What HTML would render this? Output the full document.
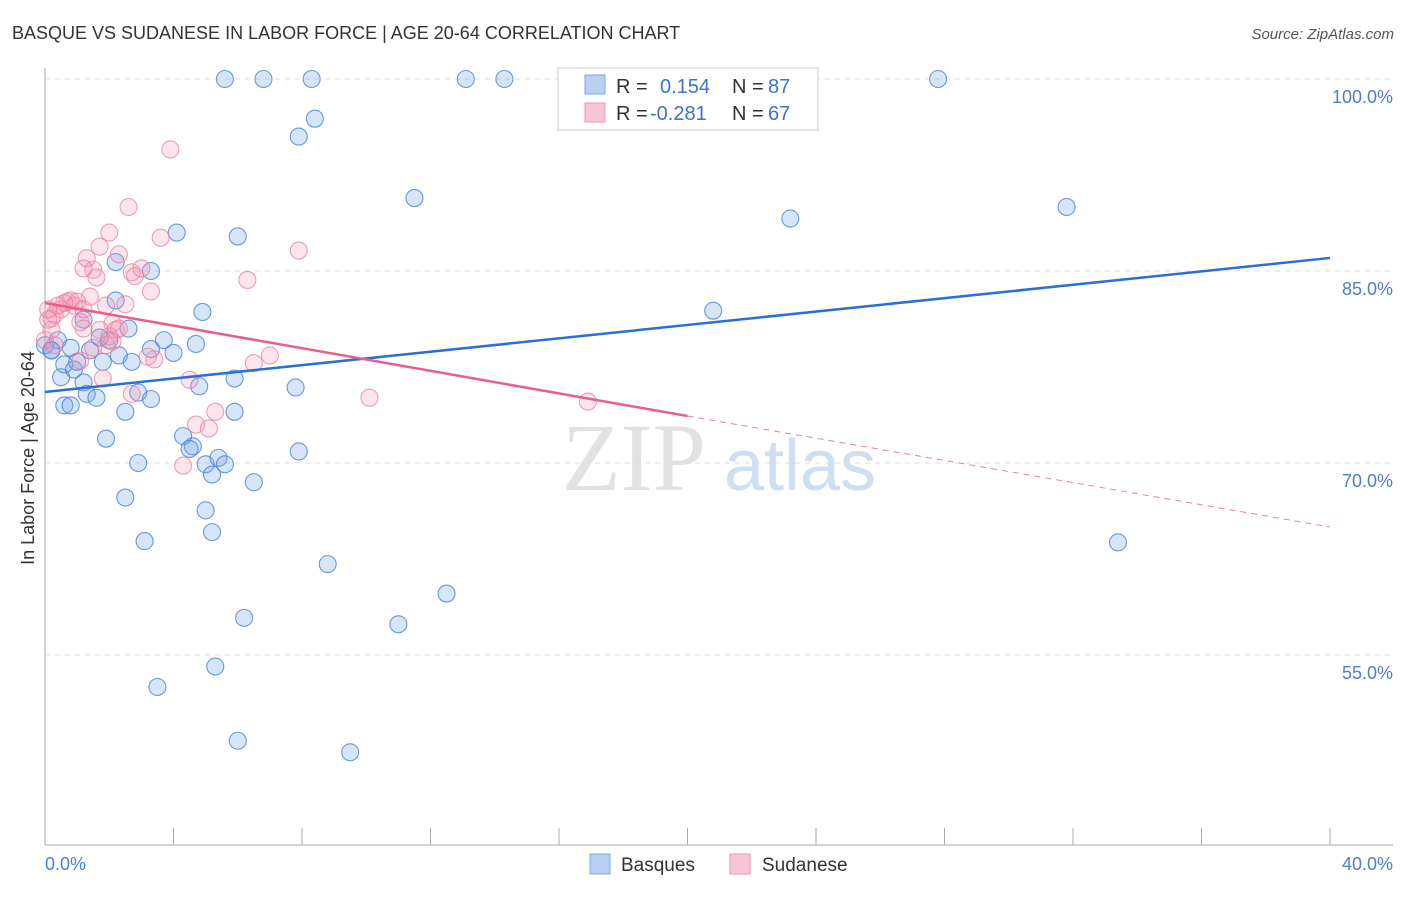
<!DOCTYPE html>
<html><head><meta charset="utf-8"><style>
body{margin:0;background:#fff;font-family:"Liberation Sans",sans-serif;}
</style></head><body>
<svg width="1406" height="892" xmlns="http://www.w3.org/2000/svg" font-family="Liberation Sans, sans-serif">
<text x="12" y="39" font-size="18" fill="#333">BASQUE VS SUDANESE IN LABOR FORCE | AGE 20-64 CORRELATION CHART</text>
<text x="1394" y="39" font-size="15" fill="#555" font-style="italic" text-anchor="end">Source: ZipAtlas.com</text>
<text x="34" y="458" font-size="18" fill="#333" text-anchor="middle" transform="rotate(-90 34 458)">In Labor Force | Age 20-64</text>
<g>
<text x="634" y="490" font-size="96" font-family="Liberation Serif, serif" fill="#e2e2e2" text-anchor="middle">ZIP</text>
<text x="800" y="490" font-size="72" fill="#d0def2" text-anchor="middle">atlas</text>
</g>
<g id="grid"></g><g id="axes"></g><g id="marks"></g>
<g>
<rect x="558" y="68" width="260" height="62" fill="#fff" stroke="#ccc"/>
<rect x="585" y="75" width="20" height="19" fill="#b8d1f3" stroke="#7fa6e0"/>
<rect x="585" y="103" width="20" height="19" fill="#f9c4d4" stroke="#eb9ab3"/>
<text x="616" y="93" font-size="20" fill="#333">R = </text><text x="660" y="93" font-size="20" fill="#3a74d0">0.154</text>
<text x="732" y="93" font-size="20" fill="#333">N = </text><text x="768" y="93" font-size="20" fill="#3a74d0">87</text>
<text x="616" y="120" font-size="20" fill="#333">R = </text><text x="650" y="120" font-size="20" fill="#3a74d0">-0.281</text>
<text x="732" y="120" font-size="20" fill="#333">N = </text><text x="768" y="120" font-size="20" fill="#3a74d0">67</text>
</g>
<g>
<rect x="590" y="854" width="20" height="20" fill="#b8d1f3" stroke="#7fa6e0"/>
<text x="621" y="871" font-size="19" fill="#333">Basques</text>
<rect x="730" y="854" width="20" height="20" fill="#f9c4d4" stroke="#eb9ab3"/>
<text x="762" y="871" font-size="19" fill="#333">Sudanese</text>
</g>
<text x="45" y="870" font-size="18" fill="#4a7fd0">0.0%</text>
<text x="1393" y="870" font-size="18" fill="#4a7fd0" text-anchor="end">40.0%</text>
</svg>
<script>
const yTicks=[100,85,70,55];
const yTickLabels=["100.0%","85.0%","70.0%","55.0%"];
const xTicks=[0,4,8,12,16,20,24,28,32,36,40];
const blueX=[5.6,6.8,8.3,13.1,14.3,27.8,8.4,7.9,11.5,23.2,31.8,4.1,6.0,2.2,3.3,4.9,20.8,2.2,1.2,2.6,3.7,4.7,3.3,4.0,0.4,0.2,0.8,1.7,2.0,2.3,2.7,1.4,0.6,0.9,1.8,0.5,1.2,1.3,1.6,0.6,0.8,2.9,3.3,2.5,5.9,4.8,5.9,7.8,1.9,4.3,4.6,4.5,2.9,5.0,5.4,5.6,5.2,7.9,6.5,2.5,5.0,5.2,3.1,8.8,12.5,6.2,11.0,5.3,3.5,6.0,9.5,33.4,1.0,0.0,0.2];
const blueY=[100,100,100,100,100,100,96.9,95.5,90.7,89.1,90.0,88.0,87.7,85.7,85.0,81.8,81.9,82.7,81.2,80.5,79.6,79.3,78.9,78.6,79.6,78.8,79.0,79.8,79.6,78.4,77.9,78.8,77.7,77.3,77.9,76.7,76.3,75.4,75.1,74.5,74.5,75.5,75.0,74.0,76.6,76.0,74.0,75.9,71.9,72.1,71.3,71.1,70.0,69.9,70.4,69.9,69.1,70.9,68.5,67.3,66.3,64.6,63.9,62.1,59.8,57.9,57.4,54.1,52.5,48.3,47.4,63.8,77.9,79.2,78.8];
const pinkX=[3.9,2.6,2.0,3.6,7.9,1.7,2.3,1.3,1.5,2.7,1.2,1.6,3.0,2.8,6.3,3.3,1.4,2.5,1.9,0.7,0.9,0.5,0.3,0.2,1.1,2.1,2.2,1.2,0.2,0.1,1.9,1.5,2.1,7.0,3.4,3.2,6.5,4.5,1.8,2.7,10.1,16.9,5.3,4.7,5.1,4.3,1.0,0.8,0.6,0.4,2.0,2.3,1.7,1.2,0.0,0.1,0.3,1.1];
const pinkY=[94.5,90.0,88.0,87.6,86.6,86.9,86.3,86.0,85.1,84.9,85.2,84.5,85.2,84.6,84.3,83.4,83.0,82.4,82.3,82.6,82.3,82.0,81.6,81.3,81.0,80.9,80.4,80.5,80.4,81.2,79.2,79.0,79.5,78.4,78.1,78.3,77.8,76.5,76.6,75.4,75.1,74.8,74.0,73.0,72.7,69.8,82.6,82.7,82.5,82.3,79.9,80.5,80.4,82.0,79.6,82.0,79.2,78.0];
const blueTrend=[75.55,86.02];
const pinkTrend=[82.5,73.67,65.0];
const NS="http://www.w3.org/2000/svg";
const X0=45,X1=1330,YT=79;
function sx(v){return X0+v/40*(X1-X0);}
function sy(v){return YT+(100-v)*12.8;}
function mk(tag,attrs,parent){const e=document.createElementNS(NS,tag);for(const k in attrs)e.setAttribute(k,attrs[k]);parent.appendChild(e);return e;}
const grid=document.getElementById('grid'),axes=document.getElementById('axes'),marks=document.getElementById('marks');
yTicks.forEach((t,i)=>{
 const l=mk('line',{x1:45,x2:1393,y1:sy(t),y2:sy(t),stroke:'#ddd','stroke-dasharray':'5,5'},grid);
 
 
 const tx=mk('text',{x:1393,y:sy(t)+24,'font-size':18,fill:'#4a7fd0','text-anchor':'end'},axes);
 tx.textContent=yTickLabels[i];
 
 
});
const ya=mk('line',{x1:45,x2:45,y1:68,y2:845,stroke:'#aaa'},axes);


const xa=mk('line',{x1:45,x2:1393,y1:845,y2:845,stroke:'#aaa'},axes);


xTicks.forEach(t=>{
 const l=mk('line',{x1:sx(t),x2:sx(t),y1:828,y2:845,stroke:'#aaa'},axes);
 
 
});
function dots(xs,ys,fill,stroke,name){
 xs.forEach((x,i)=>{
  const c=mk('circle',{cx:sx(x),cy:sy(ys[i]),r:8.5,fill:fill,stroke:stroke,'stroke-width':1.1},marks);
  
  
 });
}
dots(blueX,blueY,'rgba(110,160,235,0.28)','rgba(70,130,215,0.8)','basques-point');
dots(pinkX,pinkY,'rgba(245,150,180,0.25)','rgba(232,128,160,0.75)','sudanese-point');
const bl=mk('line',{x1:sx(0),y1:sy(blueTrend[0]),x2:sx(40),y2:sy(blueTrend[1]),stroke:'#2a6fd6','stroke-width':2.5},marks);


const pl=mk('line',{x1:sx(0),y1:sy(pinkTrend[0]),x2:sx(20),y2:sy(pinkTrend[1]),stroke:'#e8608a','stroke-width':2.5},marks);


const pd=mk('line',{x1:sx(20),y1:sy(pinkTrend[1]),x2:sx(40),y2:sy(pinkTrend[2]),stroke:'#e8809f','stroke-width':1,'stroke-dasharray':'6,5'},marks);


</script>
</body></html>
